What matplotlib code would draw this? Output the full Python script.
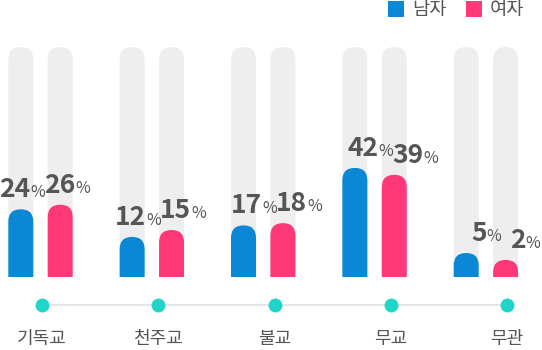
import matplotlib
matplotlib.use("Agg")
import matplotlib.pyplot as plt
from matplotlib.patches import FancyBboxPatch, Rectangle

plt.rcParams['font.family'] = ['Noto Sans CJK KR', 'DejaVu Sans']

# 데이터
religions = ['기독교', '천주교', '불교', '무교', '무관']
male = [24, 12, 17, 42, 5]
female = [26, 15, 18, 39, 2]
series_names = ['남자', '여자']

BLUE = '#0a88d6'
PINK = '#ff3878'
TRACK = '#eeeeee'
TEXT = '#555555'
DOT = '#1fd6c8'

# 레이아웃 (픽셀 단위)
X0, STEP, GAP, W = 20.8, 111.35, 39.4, 25
BASE, TOP = 277, 47
R = W / 2
K = 2.3          # px per %
LSCALE = 1.043   # 라벨/점 레이어 가로 배율

fig = plt.figure(figsize=(5.42, 3.5), dpi=100)
ax = fig.add_axes([0, 0, 1, 1])
ax.set_xlim(0, 542)
ax.set_ylim(350, 0)
ax.axis('off')

clip = Rectangle((0, 0), 542, BASE, transform=ax.transData)


def rbar(cx, top, color):
    p = FancyBboxPatch((cx - W / 2, top), W, BASE - top + R + 2,
                       boxstyle='round,pad=0,rounding_size=%.2f' % R,
                       fc=color, ec='none')
    ax.add_patch(p)
    p.set_clip_path(clip)


renderer = fig.canvas.get_renderer()


def value_label(cx, top, v):
    y = top - 12
    t = ax.text(0, y, str(v), fontsize=19, fontweight='bold', color=TEXT,
                ha='left', va='baseline')
    p = ax.text(0, y, '%', fontsize=11.5, color=TEXT, ha='left', va='baseline')
    w1 = t.get_window_extent(renderer).width
    w2 = p.get_window_extent(renderer).width
    left = cx - (w1 + w2) / 2
    left = min(max(left, -1), 540 - w1 - w2)
    t.set_x(left)
    p.set_x(left + w1)


for i, name in enumerate(religions):
    mx = X0 + i * STEP
    fx = mx + GAP
    for cx, v, col, shift in [(mx, male[i], BLUE, 0), (fx, female[i], PINK, 4)]:
        rbar(cx, TOP, TRACK)
        top = BASE - (R + K * v)
        rbar(cx, top, col)
        value_label(cx * LSCALE + shift, top, v)

# 하단 점과 선
dots = [(X0 + i * STEP + GAP / 2) * LSCALE for i in range(len(religions))]
ax.plot([dots[0], dots[-1]], [305, 305], color='#e0e0e0', lw=1.2, zorder=1)
ax.scatter(dots, [305] * len(dots), s=100, color=DOT, zorder=2, linewidths=0)
for x, name in zip(dots, religions):
    ax.text(x, 339, name, fontsize=13, color=TEXT, ha='center', va='center')

# 범례
for lx, name, col in [(388, series_names[0], BLUE), (466, series_names[1], PINK)]:
    ax.add_patch(Rectangle((lx, 1), 16, 16, fc=col, ec='none'))
    ax.text(lx + 24, 9, name, fontsize=13.5, color=TEXT, ha='left', va='center')

fig.savefig('out.png', dpi=100)
